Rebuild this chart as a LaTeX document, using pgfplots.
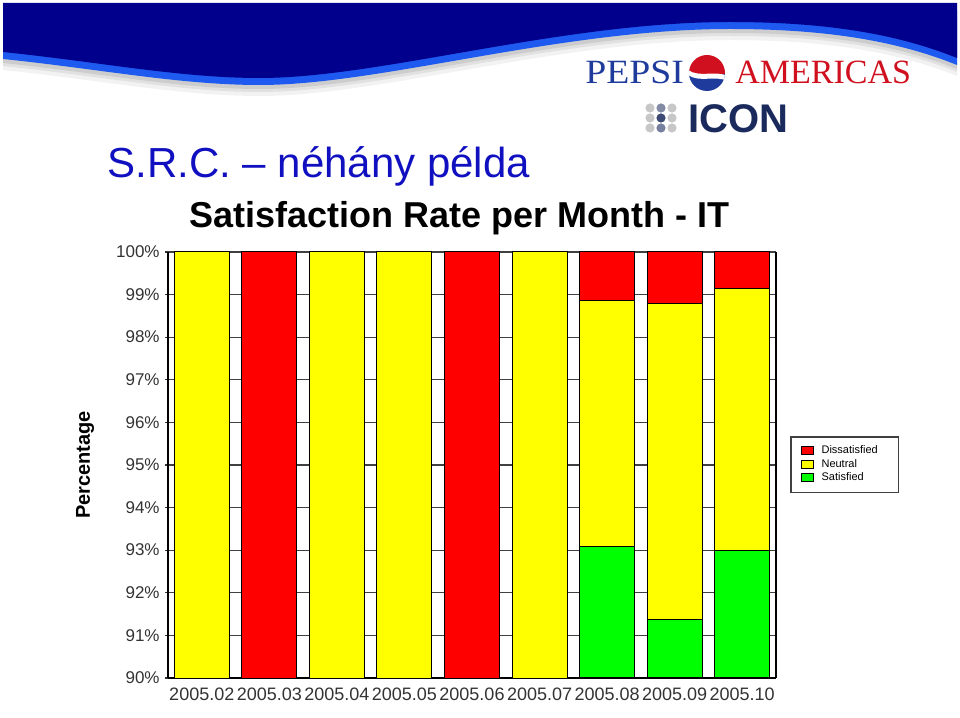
\documentclass[border=0pt]{standalone}
\usepackage{pgfplots}
\pgfplotsset{compat=1.18}
\usepackage{fontspec}
\setmainfont{Liberation Sans}
\newfontfamily\pepsifont{Liberation Serif}
\definecolor{hdrblue}{HTML}{00008C}
\definecolor{stripeblue}{HTML}{1E5AF0}
\definecolor{titleblue}{HTML}{1010C0}
\definecolor{pepsiblue}{HTML}{1F3C9C}
\definecolor{pepsired}{HTML}{D0101E}
\definecolor{iconnavy}{HTML}{1B2A5C}
\definecolor{barred}{HTML}{FF0000}
\definecolor{baryellow}{HTML}{FFFF00}
\definecolor{bargreen}{HTML}{00FF00}
\newcommand\wavefill[1]{\fill[#1] (3,3) -- (3,52) .. controls (100,62) and (180,78) .. (260,78) .. controls (380,78) and (560,22) .. (730,22) .. controls (830,22) and (900,35) .. (957,58) -- (957,3) -- cycle;}
\begin{document}
\begin{tikzpicture}
\begin{scope}[x=0.5pt,y=-0.5pt,yshift=359pt]
\path[use as bounding box] (0,0) rectangle (960,718);
% header wave with shadow
\wavefill{black,opacity=0.05,yshift=-9pt}
\wavefill{black,opacity=0.07,yshift=-7pt}
\wavefill{black,opacity=0.09,yshift=-5.5pt}
\wavefill{stripeblue,yshift=-3.5pt}
\wavefill{hdrblue}
% Pepsi Americas logo
\node[anchor=base west, inner sep=0pt, text=pepsiblue, font=\pepsifont\fontsize{17}{17}\selectfont] at (585,84) {\scalebox{1.11}[1]{PEPSI}};
\node[anchor=base west, inner sep=0pt, text=pepsired, font=\pepsifont\fontsize{17}{17}\selectfont] at (735,84) {AMERICAS};
\begin{scope}
\clip (707,73) circle[radius=9pt];
\fill[pepsired] (685,50) rectangle (730,74);
\fill[pepsiblue] (685,74) rectangle (730,100);
\fill[white] (688,70) .. controls (700,78) and (714,70) .. (728,76) -- (728,81) .. controls (714,75) and (700,83) .. (688,75) -- cycle;
\end{scope}
% ICON logo
\foreach \yy in {108,118,128} {
  \fill[black!22] (650,\yy) circle[radius=2.3pt];
  \fill[black!22] (672,\yy) circle[radius=2.3pt];
}
\fill[iconnavy!55] (661,108) circle[radius=2.3pt];
\fill[iconnavy!85] (661,118) circle[radius=2.3pt];
\fill[iconnavy!60] (661,128) circle[radius=2.3pt];
\node[anchor=base west, inner sep=0pt, text=iconnavy, font=\bfseries\fontsize{20}{20}\selectfont] at (688,133) {ICON};
% slide title
\node[anchor=base west, inner sep=0pt, text=titleblue, font=\fontsize{21}{21}\selectfont] at (107,178) {S.R.C. – néhány példa};
\end{scope}

\begin{axis}[
  at={(84pt,20pt)}, anchor=south west,
  scale only axis, width=304pt, height=213pt,
  ybar stacked, bar width=27.5pt,
  xmin=-0.5, xmax=8.5, ymin=90, ymax=100,
  xtick={0,...,8},
  xticklabels={2005.02,2005.03,2005.04,2005.05,2005.06,2005.07,2005.08,2005.09,2005.10},
  xtick style={draw=none},
  ytick={90,...,100},
  ytick pos=left,
  yticklabel={\pgfmathprintnumber{\tick}\%},
  /pgf/number format/assume math mode=true,
  tick align=outside, major tick length=1.5pt,
  ytick style={black!80, line width=0.6pt},
  ymajorgrids, grid style={black!75, line width=0.6pt},
  axis x line*=bottom, axis y line*=box,
  axis line style={black, line width=0.8pt},
  xticklabel style={font=\fontsize{9}{10}\selectfont, text=black!80},
  yticklabel style={font=\fontsize{8.5}{9}\selectfont, text=black!80, inner sep=2.5pt},
  title={Satisfaction Rate per Month - IT},
  title style={at={(axis description cs:0.48,1.052)}, anchor=center, font=\bfseries\fontsize{18}{18}\selectfont},
  ylabel={Percentage},
  ylabel style={at={(axis description cs:-0.1365,0.5)}, anchor=center, font=\bfseries\fontsize{10}{10}\selectfont},
  reverse legend,
  legend style={at={(axis description cs:1.023,0.568)}, anchor=north west, draw=black!75, line width=0.8pt,
    font=\fontsize{5.5}{6}\selectfont, inner xsep=5pt, inner ysep=4pt, row sep=0.2pt,
    nodes={inner sep=0.5pt}, /tikz/every odd column/.append style={column sep=3.5pt}},
  legend cell align=left,
  legend image code/.code={\draw[#1,draw=black,line width=0.4pt] (0pt,-1.8pt) rectangle (6pt,2.2pt);},
]
\addplot[fill=bargreen, draw=black, line width=0.5pt] coordinates {(0,0) (1,0) (2,0) (3,0) (4,0) (5,0) (6,93.08) (7,91.37) (8,93.0)};
\addplot[fill=baryellow, draw=black, line width=0.5pt] coordinates {(0,100) (1,0) (2,100) (3,100) (4,0) (5,100) (6,5.77) (7,7.42) (8,6.15)};
\addplot[fill=barred, draw=black, line width=0.5pt] coordinates {(0,0) (1,100) (2,0) (3,0) (4,100) (5,0) (6,1.15) (7,1.21) (8,0.85)};
\legend{Satisfied,Neutral,{\makebox[33pt][l]{Dissatisfied}}}
\end{axis}
\end{tikzpicture}
\end{document}
